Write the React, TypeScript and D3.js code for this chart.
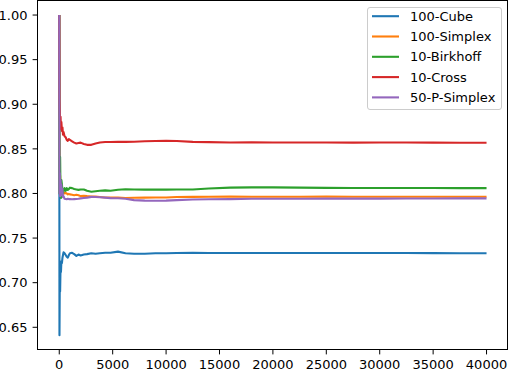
import React from "react";
import * as d3 from "d3";

const W = 510;
const H = 370;

const steps = [0, 20, 50, 80, 120, 160, 200, 250, 300, 350, 400, 500, 600, 700, 800, 900, 1000, 1200, 1400, 1600, 1800, 2000, 2300, 2600, 3000, 3400, 3800, 4300, 4800, 5500, 6200, 7000, 8000, 9000, 10000, 11000, 12500, 14000, 16000, 18000, 20000, 22500, 25000, 27500, 30000, 32500, 35000, 37500, 40000];

const cube100 = [1.0, 0.641, 0.705, 0.69, 0.718, 0.712, 0.724, 0.722, 0.728, 0.731, 0.734, 0.733, 0.731, 0.729, 0.728, 0.731, 0.733, 0.7335, 0.732, 0.730, 0.7315, 0.7305, 0.7315, 0.732, 0.733, 0.7325, 0.733, 0.7335, 0.7335, 0.7348, 0.733, 0.7325, 0.7325, 0.733, 0.733, 0.7332, 0.7335, 0.7333, 0.7332, 0.7333, 0.7333, 0.7332, 0.7333, 0.7333, 0.7332, 0.7332, 0.7331, 0.733, 0.733];

const simplex100 = [1.0, 0.86, 0.80, 0.82, 0.80, 0.81, 0.800, 0.803, 0.800, 0.801, 0.802, 0.800, 0.8005, 0.800, 0.799, 0.7995, 0.799, 0.7985, 0.798, 0.7985, 0.798, 0.797, 0.7975, 0.797, 0.7965, 0.7965, 0.796, 0.7955, 0.7955, 0.7953, 0.795, 0.7952, 0.7953, 0.7955, 0.7955, 0.796, 0.7962, 0.7964, 0.7965, 0.7964, 0.7964, 0.7964, 0.7965, 0.7964, 0.7964, 0.7964, 0.7963, 0.7963, 0.7963];

const birkhoff10 = [1.0, 0.80, 0.83, 0.841, 0.80, 0.795, 0.815, 0.81, 0.803, 0.800, 0.803, 0.806, 0.803, 0.806, 0.804, 0.805, 0.8065, 0.806, 0.805, 0.8045, 0.804, 0.8045, 0.8045, 0.803, 0.802, 0.8025, 0.803, 0.8035, 0.803, 0.8042, 0.8047, 0.8045, 0.8043, 0.8043, 0.8043, 0.8044, 0.8045, 0.8055, 0.8065, 0.8068, 0.8068, 0.8065, 0.8063, 0.8062, 0.8062, 0.8061, 0.8061, 0.806, 0.806];

const cross10 = [1.0, 0.905, 0.89, 0.875, 0.886, 0.872, 0.88, 0.87, 0.874, 0.866, 0.869, 0.864, 0.863, 0.860, 0.859, 0.861, 0.860, 0.8585, 0.857, 0.856, 0.8565, 0.857, 0.8555, 0.8545, 0.8545, 0.856, 0.8572, 0.8577, 0.8577, 0.8578, 0.8578, 0.858, 0.8585, 0.8588, 0.859, 0.8588, 0.8578, 0.8575, 0.8572, 0.8573, 0.8572, 0.8571, 0.8572, 0.857, 0.8572, 0.8571, 0.857, 0.8568, 0.8568];

const pSimplex50 = [1.0, 0.80, 0.823, 0.797, 0.815, 0.80, 0.81, 0.798, 0.805, 0.7957, 0.797, 0.794, 0.7938, 0.7935, 0.794, 0.7937, 0.7937, 0.7935, 0.7937, 0.7938, 0.794, 0.7945, 0.795, 0.7953, 0.7962, 0.796, 0.7957, 0.7953, 0.7948, 0.7946, 0.794, 0.7925, 0.792, 0.7919, 0.792, 0.7925, 0.7932, 0.7935, 0.7937, 0.794, 0.794, 0.7941, 0.7942, 0.7942, 0.7942, 0.7943, 0.7944, 0.7945, 0.7945];

const seriesNames = ["100-Cube", "100-Simplex", "10-Birkhoff", "10-Cross", "50-P-Simplex"];
const seriesValues = [cube100, simplex100, birkhoff10, cross10, pSimplex50];
const colors = ["#1f77b4", "#ff7f0e", "#2ca02c", "#d62728", "#9467bd"];

const xTicks = [0, 5000, 10000, 15000, 20000, 25000, 30000, 35000, 40000];
const yTicks = [0.65, 0.7, 0.75, 0.8, 0.85, 0.9, 0.95, 1.0];

const FONT = "DejaVu Sans";
const FS = 13;

export default function App() {
  const left = 37.5, right = 507.5, top = 0.5, bottom = 349.5;
  const x = d3.scaleLinear().domain([-2000, 42000]).range([left + 0.4, right + 0.4]);
  const y = d3.scaleLinear().domain([0.6251, 1.0163]).range([bottom, top]);
  const line = d3
    .line<number>()
    .x((_, i) => x(steps[i]))
    .y((d) => y(d));

  const legX = 367.5, legY = 7.5, legW = 134, legH = 102;
  const rowY = (i: number) => 16.2 + i * 20.3;

  return (
    <svg width={W} height={H} style={{ position: "absolute", left: 0, top: 0, background: "#fff" }} fontFamily={FONT}>
      <rect x={0} y={0} width={W} height={H} fill="#fff" />
      <g>
        {seriesValues.map((vals, k) => (
          <path key={k} d={line(vals) || ""} fill="none" stroke={colors[k]} strokeWidth={2.1} strokeLinejoin="round" />
        ))}
      </g>
      <rect x={left} y={top} width={right - left} height={bottom - top} fill="none" stroke="#000" strokeWidth={1} />
      {yTicks.map((t) => (
        <g key={t}>
          <line x1={left - 4.9} x2={left} y1={y(t)} y2={y(t)} stroke="#000" strokeWidth={1} />
          <text x={27.5} y={y(t)} dy="0.36em" textAnchor="end" fontSize={FS} fill="#000">
            {d3.format(".2f")(t)}
          </text>
        </g>
      ))}
      {xTicks.map((t) => (
        <g key={t}>
          <line x1={x(t)} x2={x(t)} y1={bottom} y2={bottom + 4.9} stroke="#000" strokeWidth={1} />
          <text x={x(t)} y={368.5} textAnchor="middle" fontSize={FS} fill="#000">
            {String(t)}
          </text>
        </g>
      ))}
      <g>
        <rect x={legX} y={legY} width={legW} height={legH} rx={2.5} fill="#fff" fillOpacity={0.8} stroke="#cccccc" strokeWidth={1} />
        {seriesNames.map((name, i) => (
          <g key={name}>
            <line x1={372} x2={399} y1={rowY(i)} y2={rowY(i)} stroke={colors[i]} strokeWidth={2.1} />
            <text x={410} y={rowY(i)} dy="0.36em" fontSize={FS} fill="#000">
              {name}
            </text>
          </g>
        ))}
      </g>
    </svg>
  );
}
